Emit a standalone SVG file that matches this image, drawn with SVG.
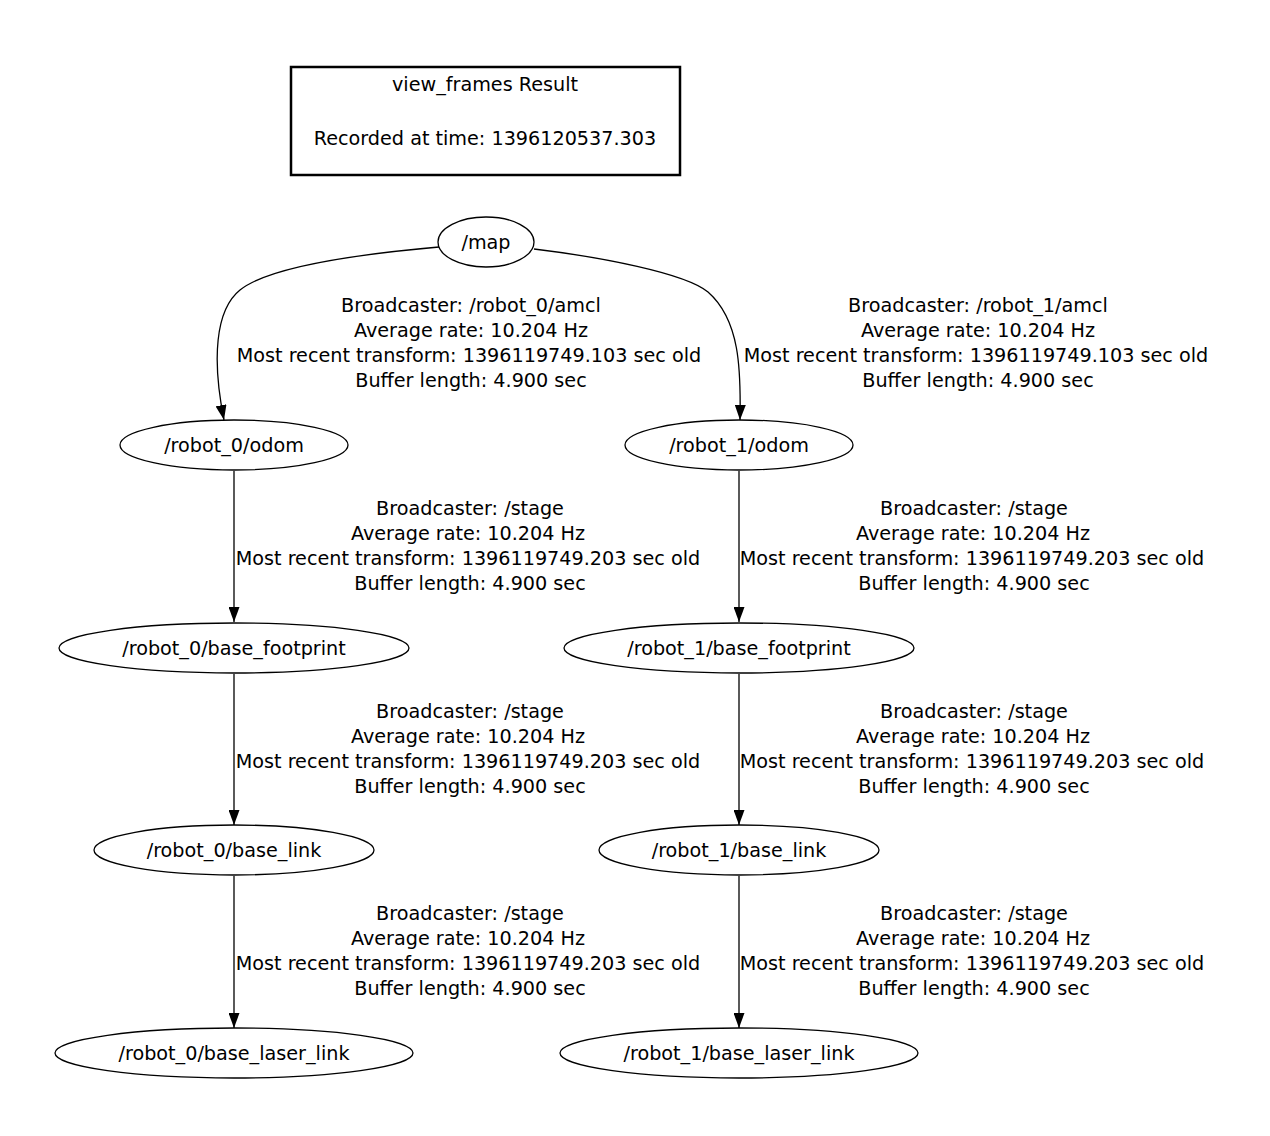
<svg xmlns="http://www.w3.org/2000/svg" width="1270" height="1136" viewBox="0 0 1270 1136">
<defs>
<style>
text{font-family:"DejaVu Sans","Liberation Sans",sans-serif;font-size:19.2px;fill:#000;text-anchor:middle}
.n ellipse{fill:none;stroke:#000;stroke-width:1.3}
.e path{fill:none;stroke:#000;stroke-width:1.3}
</style>
<marker id="ah" viewBox="0 0 15 11" refX="15" refY="5.5" markerWidth="15" markerHeight="11" markerUnits="userSpaceOnUse" orient="auto">
<path d="M0,0 L15,5.5 L0,11 Z" fill="#000"/>
</marker>
</defs>
<rect width="1270" height="1136" fill="#fff"/>
<g id="title">
<rect x="291" y="67" width="389" height="108" fill="none" stroke="#000" stroke-width="2.5"/>
<text x="485" y="91">view_frames Result</text>
<text x="485" y="145">Recorded at time: 1396120537.303</text>
</g>
<g id="connectors" class="e">
<path d="M439,247 C360,254 270,266 240,290 C215,310 212,360 224,420" marker-end="url(#ah)"/>
<path d="M534,249 C600,257 685,273 708,292 C740,320 741,370 740,420" marker-end="url(#ah)"/>
<path d="M234,471 L234,622" marker-end="url(#ah)"/>
<path d="M739,471 L739,622" marker-end="url(#ah)"/>
<path d="M234,674 L234,825" marker-end="url(#ah)"/>
<path d="M739,674 L739,825" marker-end="url(#ah)"/>
<path d="M234,876 L234,1028" marker-end="url(#ah)"/>
<path d="M739,876 L739,1028" marker-end="url(#ah)"/>
</g>
<g id="labels">
<text x="471" y="312">Broadcaster: /robot_0/amcl</text>
<text x="471" y="337">Average rate: 10.204 Hz</text>
<text x="469" y="362">Most recent transform: 1396119749.103 sec old</text>
<text x="471" y="387">Buffer length: 4.900 sec</text>
<text x="978" y="312">Broadcaster: /robot_1/amcl</text>
<text x="978" y="337">Average rate: 10.204 Hz</text>
<text x="976" y="362">Most recent transform: 1396119749.103 sec old</text>
<text x="978" y="387">Buffer length: 4.900 sec</text>
<text x="470" y="515">Broadcaster: /stage</text>
<text x="468" y="540">Average rate: 10.204 Hz</text>
<text x="468" y="565">Most recent transform: 1396119749.203 sec old</text>
<text x="470" y="590">Buffer length: 4.900 sec</text>
<text x="974" y="515">Broadcaster: /stage</text>
<text x="973" y="540">Average rate: 10.204 Hz</text>
<text x="972" y="565">Most recent transform: 1396119749.203 sec old</text>
<text x="974" y="590">Buffer length: 4.900 sec</text>
<text x="470" y="718">Broadcaster: /stage</text>
<text x="468" y="743">Average rate: 10.204 Hz</text>
<text x="468" y="768">Most recent transform: 1396119749.203 sec old</text>
<text x="470" y="793">Buffer length: 4.900 sec</text>
<text x="974" y="718">Broadcaster: /stage</text>
<text x="973" y="743">Average rate: 10.204 Hz</text>
<text x="972" y="768">Most recent transform: 1396119749.203 sec old</text>
<text x="974" y="793">Buffer length: 4.900 sec</text>
<text x="470" y="920">Broadcaster: /stage</text>
<text x="468" y="945">Average rate: 10.204 Hz</text>
<text x="468" y="970">Most recent transform: 1396119749.203 sec old</text>
<text x="470" y="995">Buffer length: 4.900 sec</text>
<text x="974" y="920">Broadcaster: /stage</text>
<text x="973" y="945">Average rate: 10.204 Hz</text>
<text x="972" y="970">Most recent transform: 1396119749.203 sec old</text>
<text x="974" y="995">Buffer length: 4.900 sec</text>
</g>
<g id="map" class="n"><ellipse cx="486" cy="242" rx="48" ry="25"/><text x="486" y="249">/map</text></g>
<g id="robot_0_odom" class="n"><ellipse cx="234" cy="445" rx="114" ry="25"/><text x="234" y="452">/robot_0/odom</text></g>
<g id="robot_1_odom" class="n"><ellipse cx="739" cy="445" rx="114" ry="25"/><text x="739" y="452">/robot_1/odom</text></g>
<g id="robot_0_base_footprint" class="n"><ellipse cx="234" cy="648" rx="175" ry="25"/><text x="234" y="655">/robot_0/base_footprint</text></g>
<g id="robot_1_base_footprint" class="n"><ellipse cx="739" cy="648" rx="175" ry="25"/><text x="739" y="655">/robot_1/base_footprint</text></g>
<g id="robot_0_base_link" class="n"><ellipse cx="234" cy="850" rx="140" ry="25"/><text x="234" y="857">/robot_0/base_link</text></g>
<g id="robot_1_base_link" class="n"><ellipse cx="739" cy="850" rx="140" ry="25"/><text x="739" y="857">/robot_1/base_link</text></g>
<g id="robot_0_base_laser_link" class="n"><ellipse cx="234" cy="1053" rx="179" ry="25"/><text x="234" y="1060">/robot_0/base_laser_link</text></g>
<g id="robot_1_base_laser_link" class="n"><ellipse cx="739" cy="1053" rx="179" ry="25"/><text x="739" y="1060">/robot_1/base_laser_link</text></g>
</svg>
